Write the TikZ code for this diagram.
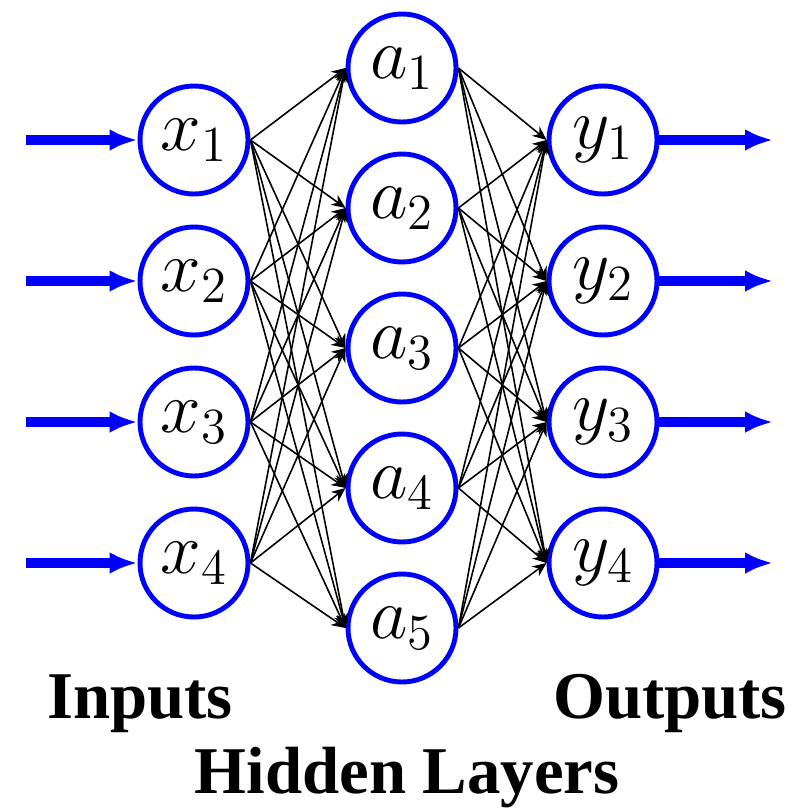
\documentclass[tikz,border=0pt]{standalone}
\usepackage{amsmath}
\usepackage[no-math]{fontspec}
\newfontfamily\labelfont{Liberation Serif}
\usetikzlibrary{arrows.meta}

\begin{document}
\begin{tikzpicture}[
    neurone/.style={circle, draw=blue, line width=1.4pt, minimum size=1.08cm,
        inner sep=0pt, font=\fontsize{20}{24}\selectfont},
    peso/.style={-{Stealth[length=1.4mm,width=1.2mm]}, line width=0.45pt},
    segnale/.style={draw=blue, line width=2.6pt, -{Latex[length=2.8mm,width=2.2mm]}},
    etichetta/.style={anchor=base, font=\labelfont\bfseries\fontsize{19}{23}\selectfont}]
    \useasboundingbox (0,0) rectangle (8.02,-8.08);

    % ingressi e uscite
    \foreach \i/\y in {1/-1.40, 2/-2.81, 3/-4.22, 4/-5.63} {
        \node[neurone] (x\i) at (1.94,\y) {$x_{\i}$};
        \node[neurone] (y\i) at (6.03,\y) {$y_{\i}$};
        \coordinate (in\i) at (0.26,\y);
        \coordinate (out\i) at (7.73,\y);
    }

    % strato nascosto
    \foreach \j/\y in {1/-0.68, 2/-2.08, 3/-3.48, 4/-4.88, 5/-6.28}
        \node[neurone] (a\j) at (4.02,\y) {$a_{\j}$};

    % pesi
    \foreach \i in {1,...,4}
        \foreach \j in {1,...,5} {
            \draw[peso] (x\i.east) -- (a\j.west);
            \draw[peso] (a\j.east) -- (y\i.west);
        }

    % frecce blu
    \foreach \i in {1,...,4} {
        \draw[segnale] (in\i) -- (x\i.west);
        \draw[segnale] (y\i.east) -- (out\i);
    }

    % etichette
    \node[etichetta] (inputs) at (1.40,-7.18) {Inputs};
    \node[etichetta] (outputs) at (6.70,-7.18) {Outputs};
    \node[etichetta] (hidden) at (4.07,-7.93) {Hidden Layers};
\end{tikzpicture}
\end{document}
